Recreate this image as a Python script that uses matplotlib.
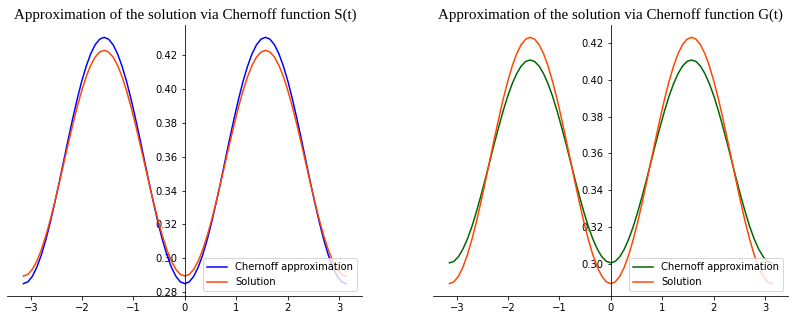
import numpy as np
import matplotlib
matplotlib.use("Agg")
import matplotlib.pyplot as plt

x = np.linspace(-np.pi, np.pi, 73)

solution = [0.2894, 0.2904, 0.2934, 0.2983, 0.3050, 0.3133, 0.3228, 0.3334, 0.3446, 0.3562, 0.3678, 0.3790, 0.3896, 0.3991, 0.4074, 0.4141, 0.4190, 0.4220, 0.4230,
            0.4220, 0.4190, 0.4141, 0.4074, 0.3991, 0.3896, 0.3790, 0.3678, 0.3562, 0.3446, 0.3334, 0.3228, 0.3133, 0.3050, 0.2983, 0.2934, 0.2904, 0.2894,
            0.2904, 0.2934, 0.2983, 0.3050, 0.3133, 0.3228, 0.3334, 0.3446, 0.3562, 0.3678, 0.3790, 0.3896, 0.3991, 0.4074, 0.4141, 0.4190, 0.4220, 0.4230,
            0.4220, 0.4190, 0.4141, 0.4074, 0.3991, 0.3896, 0.3790, 0.3678, 0.3562, 0.3446, 0.3334, 0.3228, 0.3133, 0.3050, 0.2983, 0.2934, 0.2904, 0.2894]

chernoff_S = [0.2849, 0.2860, 0.2893, 0.2947, 0.3020, 0.3109, 0.3214, 0.3329, 0.3451, 0.3578, 0.3705, 0.3827, 0.3942, 0.4047, 0.4136, 0.4209, 0.4263, 0.4296, 0.4307,
              0.4296, 0.4263, 0.4209, 0.4136, 0.4047, 0.3942, 0.3827, 0.3705, 0.3578, 0.3451, 0.3329, 0.3214, 0.3109, 0.3020, 0.2947, 0.2893, 0.2860, 0.2849,
              0.2860, 0.2893, 0.2947, 0.3020, 0.3109, 0.3214, 0.3329, 0.3451, 0.3578, 0.3705, 0.3827, 0.3942, 0.4047, 0.4136, 0.4209, 0.4263, 0.4296, 0.4307,
              0.4296, 0.4263, 0.4209, 0.4136, 0.4047, 0.3942, 0.3827, 0.3705, 0.3578, 0.3451, 0.3329, 0.3214, 0.3109, 0.3020, 0.2947, 0.2893, 0.2860, 0.2849]

chernoff_G = [0.3007, 0.3015, 0.3040, 0.3081, 0.3136, 0.3203, 0.3282, 0.3369, 0.3461, 0.3557, 0.3653, 0.3745, 0.3832, 0.3911, 0.3978, 0.4033, 0.4074, 0.4099, 0.4107,
              0.4099, 0.4074, 0.4033, 0.3978, 0.3911, 0.3832, 0.3745, 0.3653, 0.3557, 0.3461, 0.3369, 0.3282, 0.3203, 0.3136, 0.3081, 0.3040, 0.3015, 0.3007,
              0.3015, 0.3040, 0.3081, 0.3136, 0.3203, 0.3282, 0.3369, 0.3461, 0.3557, 0.3653, 0.3745, 0.3832, 0.3911, 0.3978, 0.4033, 0.4074, 0.4099, 0.4107,
              0.4099, 0.4074, 0.4033, 0.3978, 0.3911, 0.3832, 0.3745, 0.3653, 0.3557, 0.3461, 0.3369, 0.3282, 0.3203, 0.3136, 0.3081, 0.3040, 0.3015, 0.3007]

titles = ["Approximation of the solution via Chernoff function S(t)",
          "Approximation of the solution via Chernoff function G(t)"]
approx_colors = ["blue", "darkgreen"]
labels = ["Chernoff approximation", "Solution"]

W, H = 795, 320
fig = plt.figure(figsize=(W / 72, H / 72), dpi=72)
ax1 = fig.add_axes([7.3 / W, 24 / H, 355 / W, 271 / H])
ax2 = fig.add_axes([433.3 / W, 24 / H, 355 / W, 271 / H])

for ax, approx, col, title in zip([ax1, ax2], [chernoff_S, chernoff_G], approx_colors, titles):
    ax.plot(x, approx, color=col, lw=1.5, label=labels[0])
    ax.plot(x, solution, color="orangered", lw=1.5, label=labels[1])
    ax.spines["left"].set_position("zero")
    ax.spines["top"].set_visible(False)
    ax.spines["right"].set_visible(False)
    ax.tick_params(labelsize=10)
    ax.set_title(title, fontfamily="Liberation Serif", fontsize=15)
    ax.legend(loc="lower right", fontsize=10)

fig.savefig("out.png", dpi=72)
